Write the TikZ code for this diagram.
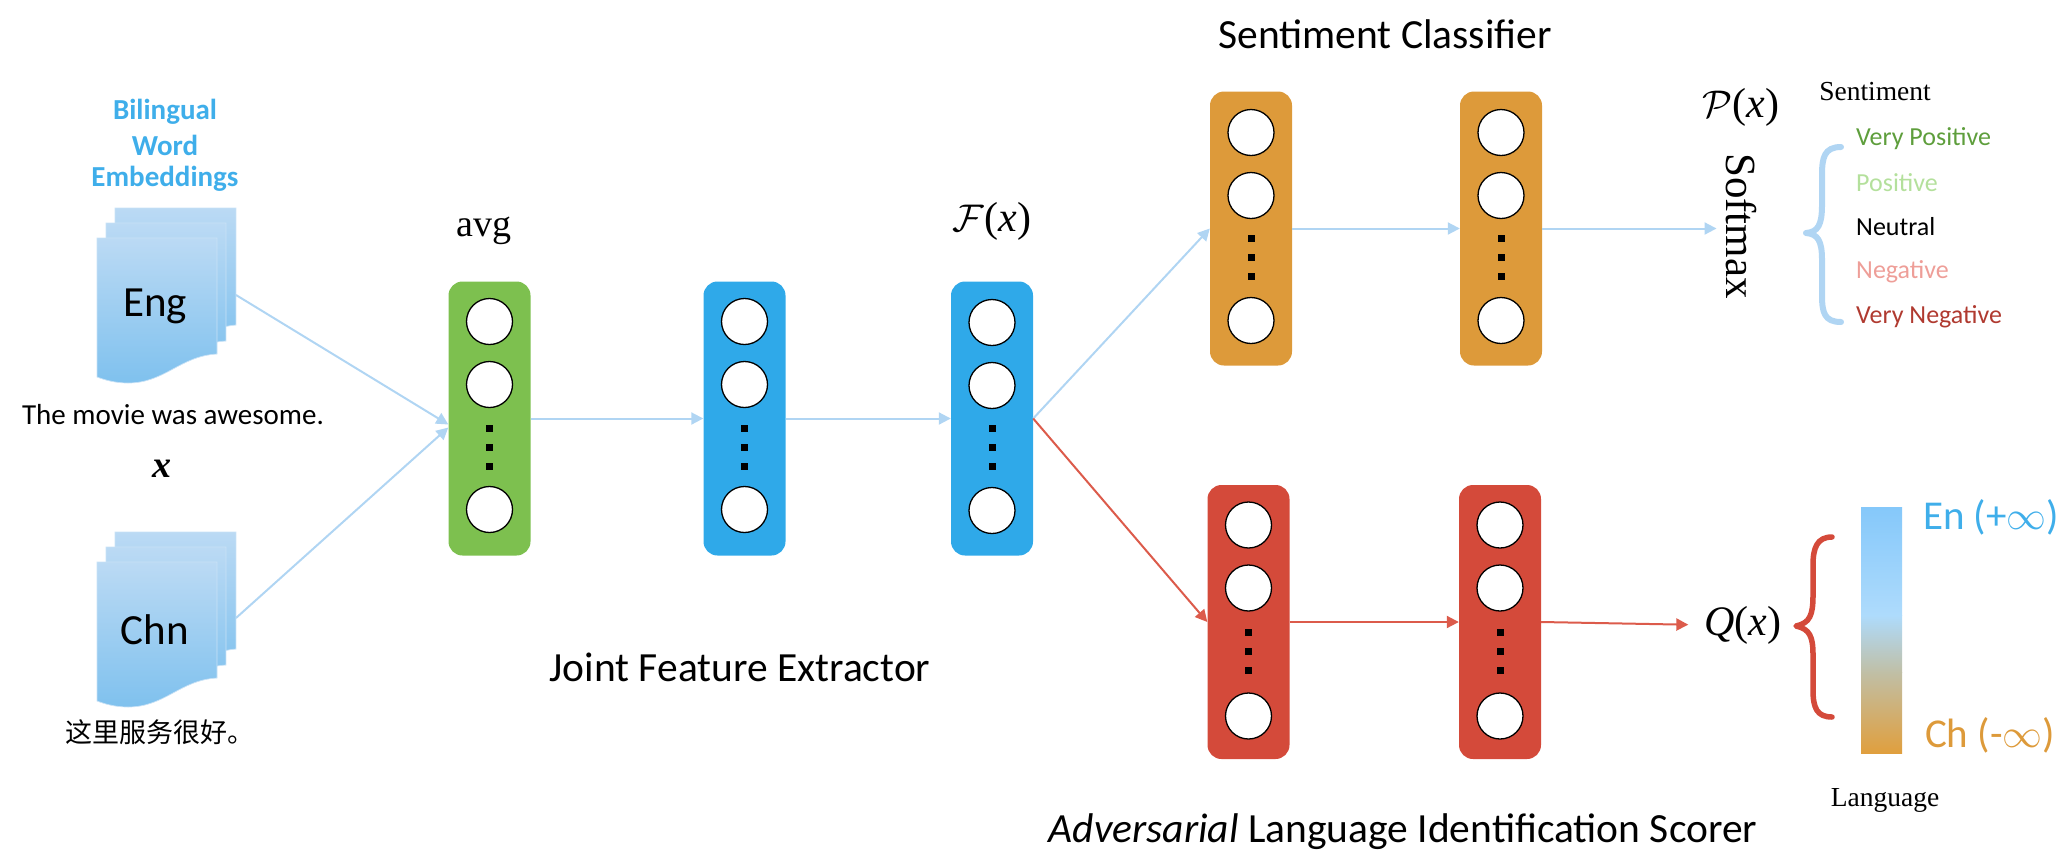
\documentclass[tikz,border=0pt]{standalone}
\usepackage{fontspec}
\setmainfont{Liberation Serif}
\newfontfamily\calf{Carlito}
\newfontfamily\cjkf{Noto Sans CJK SC}
\usetikzlibrary{arrows.meta,calc}
\definecolor{cGreen}{HTML}{7DC04F}
\definecolor{cBlue}{HTML}{2FA9E9}
\definecolor{cOrange}{HTML}{DD9A3A}
\definecolor{cRed}{HTML}{D44A3A}
\definecolor{cArrow}{HTML}{B0D5F3}
\definecolor{cArrowR}{HTML}{DC5B4B}
\definecolor{cDocTop}{HTML}{BBDAF4}
\definecolor{cDocBot}{HTML}{7FC1EE}
\definecolor{cTitle}{HTML}{3FAEEA}
\definecolor{cEdge}{HTML}{C9E2F6}
\definecolor{cBarA}{HTML}{85C8FA}
\definecolor{cBarB}{HTML}{AEDBFC}
\definecolor{cBarC}{HTML}{C0BFA6}
\definecolor{cBarD}{HTML}{E09F3E}
\definecolor{cVP}{HTML}{5E9E3C}
\definecolor{cP}{HTML}{B4E09C}
\definecolor{cNeg}{HTML}{EE9E98}
\definecolor{cVN}{HTML}{B03A30}
\newcommand{\fsz}[1]{\fontsize{#1}{#1}\selectfont}
\newcommand{\bigcal}[1]{\scalebox{1.55}{$\mathcal{#1}$}}
\newcommand{\biginf}{\scalebox{1.6}{$\infty$}}
\tikzset{
  layerbox/.style={rounded corners=14pt,minimum width=82pt,minimum height=274pt,inner sep=0pt,draw=none},
  unit/.style={circle,draw=black,line width=1.3pt,fill=white,minimum size=46pt,inner sep=0pt},
  dotmark/.style={fill=black,minimum size=7pt,inner sep=0pt,draw=none},
  bluearrow/.style={draw=cArrow,line width=2pt,-{Triangle[length=12pt,width=12pt]}},
  redarrow/.style={draw=cArrowR,line width=2pt,-{Triangle[length=12pt,width=12pt]}},
  sheet/.style={top color=cDocTop,bottom color=cDocBot,draw=cEdge,line width=0.7pt},
  sanslabel/.style={font=\calf\fsz{41.5},text=black,inner sep=0pt},
  serlabel/.style={font=\fsz{27.5},text=black,inner sep=0pt},
  classlabel/.style={font=\calf\fsz{26},inner sep=0pt,anchor=west},
  titlelabel/.style={font=\calf\bfseries\fsz{29},text=cTitle,inner sep=0pt},
  mathlabel/.style={font=\fsz{42},inner sep=0pt},
  bracestroke/.style={line width=#1,line cap=round,line join=round,fill=none},
}
% #1 name #2 x #3 y #4 colour #5..#7 circle offsets
\newcommand{\layer}[7]{%
  \node[layerbox,fill=#4] (#1) at (#2,#3) {};
  \node[unit] (#1a) at (#2,#3+#5) {};
  \node[unit] (#1b) at (#2,#3+#6) {};
  \node[unit] (#1c) at (#2,#3+#7) {};
  \node[dotmark] (#1d) at (#2,#3+10) {};
  \node[dotmark] (#1e) at (#2,#3+29) {};
  \node[dotmark] (#1f) at (#2,#3+48) {};
}
% #1 y offset
\newcommand{\docstack}[1]{%
  \begin{scope}[yshift=-#1pt]
  \path[sheet] (115,208) -- (236,208) -- (236,325) .. controls (200,328) and (185,352) .. (150,352) -- (115,346) -- cycle;
  \path[sheet] (106,223) -- (226,223) -- (226,341) .. controls (190,343) and (175,367) .. (140,367) -- (106,361) -- cycle;
  \path[sheet] (97,238) -- (217,238) -- (217,354) .. controls (180,356) and (165,383) .. (128,383) .. controls (115,383) and (105,380) .. (97,377) -- cycle;
  \end{scope}
}
\begin{document}
\begin{tikzpicture}[x=1pt,y=-1pt]
\useasboundingbox (0,0) rectangle (2063,852);
\docstack{0}
\docstack{324}
\node[font=\calf\fsz{43},inner sep=0pt] (eng) at (155,306) {Eng};
\node[font=\calf\fsz{43},inner sep=0pt] (chn) at (155,630) {Chn};
\coordinate (engout) at (236,295);
\coordinate (chnout) at (236,618);
\node[titlelabel] (t1) at (165,112) {Bilingual};
\node[titlelabel] (t2) at (165,145) {Word};
\node[titlelabel] (t3) at (165,179) {Embeddings};
\node[font=\calf\fsz{29},text=black,inner sep=0pt] (sen) at (173,415) {The movie was awesome.};
\node[font=\bfseries\itshape\fsz{38},inner sep=0pt] (xv) at (162,469) {x};
\node[font=\cjkf\fsz{27},inner sep=0pt] (zh) at (160,732) {这里服务很好。};

\layer{g}{489.5}{418.5}{cGreen}{-97}{-34}{91}
\layer{bb}{744.5}{418.5}{cBlue}{-97}{-34}{91}
\layer{bc}{992}{418.5}{cBlue}{-96}{-33}{92}
\layer{oa}{1251}{228.5}{cOrange}{-96}{-33}{92}
\layer{ob}{1501}{228.5}{cOrange}{-96}{-33}{92}
\layer{ra}{1248.5}{622}{cRed}{-97}{-34}{94}
\layer{rb}{1500}{622}{cRed}{-97}{-34}{94}

\node[font=\fsz{38},inner sep=0pt] (avg) at (484,231) {avg};
\node[mathlabel] (fx) at (992,221) {\bigcal{F}(\textit{x})};
\node[sanslabel] (sc) at (1385,34) {Sentiment Classifier};
\node[sanslabel] (jf) at (740,667) {Joint Feature Extractor};
\node[sanslabel] (ad) at (1403,832) {\textit{Adversarial} Language Identification Scorer};
\node[mathlabel] (px) at (1741,107) {\bigcal{P}(\textit{x})};
\node[font=\fsz{43},inner sep=0pt,rotate=-90] (sm) at (1741,226) {Softmax};
\node[mathlabel] (qx) at (1743,625) {\textit{Q}(\textit{x})};
\node[serlabel] (st) at (1875,92) {Sentiment};
\node[serlabel] (lg) at (1885,800) {Language};
\node[classlabel,text=cVP] (c1) at (1856,139) {Very Positive};
\node[classlabel,text=cP] (c2) at (1856,183) {Positive};
\node[classlabel,text=black] (c3) at (1856,227) {Neutral};
\node[classlabel,text=cNeg] (c4) at (1856,272) {Negative};
\node[classlabel,text=cVN] (c5) at (1856,317) {Very Negative};

\draw[cArrow,bracestroke=6pt] (1841,147) .. controls (1824,147) and (1822,158) .. (1822,175) -- (1822,205) .. controls (1822,225) and (1818,232) .. (1806,233) .. controls (1818,234) and (1822,241) .. (1822,260) -- (1822,295) .. controls (1822,312) and (1824,322) .. (1841,322);
\draw[cRed,bracestroke=5.5pt] (1832,537) .. controls (1817,537) and (1813,548) .. (1813,565) -- (1813,595) .. controls (1813,615) and (1810,623) .. (1796,626) .. controls (1810,629) and (1813,637) .. (1813,655) -- (1813,690) .. controls (1813,708) and (1817,717) .. (1832,717);

\path[top color=cBarA,bottom color=cBarB,draw=none] (1861,507) rectangle (1902,615.5);
\path[top color=cBarB,bottom color=cBarC,draw=none] (1861,615) rectangle (1902,672.5);
\path[top color=cBarC,bottom color=cBarD,draw=none] (1861,672) rectangle (1902,753);
\node[font=\calf\fsz{41},text=cTitle,inner sep=0pt] (en) at (1991,517) {En (+\biginf)};
\node[font=\calf\fsz{41},text=cOrange,inner sep=0pt] (ch) at (1990,735) {Ch (-\biginf)};

\draw[bluearrow] (engout) -- ($(g.west)+(0,6)$);
\draw[bluearrow] (chnout) -- ($(g.west)+(0,9)$);
\draw[bluearrow] (g.east) -- (bb.west);
\draw[bluearrow] (bb.east) -- (bc.west);
\draw[bluearrow] (bc.east) -- (oa.west);
\draw[redarrow] (bc.east) -- (ra.west);
\draw[bluearrow] (oa.east) -- (ob.west);
\draw[bluearrow,shorten >=40pt] (ob.east) -- (ob.east -| sm.north);
\draw[redarrow] (ra.east) -- (rb.west);
\draw[redarrow,shorten >=16pt] (rb.east) -- (qx.west);
\end{tikzpicture}
\end{document}
